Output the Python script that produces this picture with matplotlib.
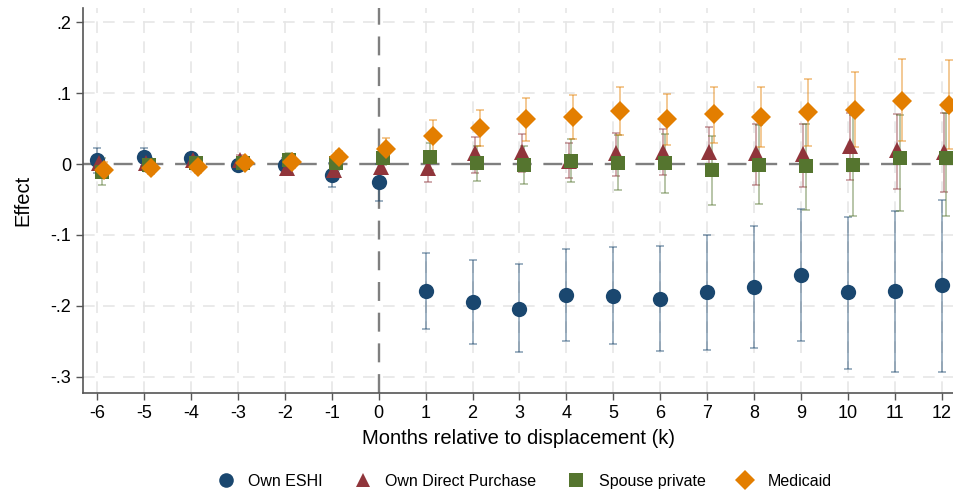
import numpy as np
import matplotlib
matplotlib.use('Agg')
import matplotlib.pyplot as plt
from matplotlib.lines import Line2D

plt.rcParams['font.family'] = ['Liberation Sans', 'DejaVu Sans']

months = np.arange(-6, 13)
labels = ['Own ESHI', 'Own Direct Purchase', 'Spouse private', 'Medicaid']

eshi = [0.005, 0.010, 0.008, -0.001, -0.002, -0.015, -0.026,
        -0.179, -0.194, -0.204, -0.185, -0.186, -0.190, -0.181, -0.173, -0.156, -0.181, -0.179, -0.171]
eshi_lo = [-0.012, -0.003, 0.000, -0.008, -0.013, -0.033, -0.052,
           -0.232, -0.253, -0.265, -0.250, -0.254, -0.263, -0.262, -0.260, -0.249, -0.289, -0.293, -0.293]
eshi_hi = [0.023, 0.023, 0.016, 0.006, 0.009, 0.002, 0.000,
           -0.126, -0.135, -0.141, -0.120, -0.117, -0.116, -0.100, -0.087, -0.063, -0.074, -0.066, -0.051]

direct = [0.001, 0.001, 0.005, 0.005, -0.006, -0.008, -0.004,
          -0.005, 0.015, 0.017, 0.004, 0.016, 0.017, 0.017, 0.015, 0.014, 0.026, 0.020, 0.017]
direct_lo = [-0.009, -0.008, -0.004, -0.003, -0.014, -0.017, -0.013,
             -0.025, -0.012, -0.011, -0.020, -0.017, -0.016, -0.013, -0.029, -0.032, -0.023, -0.035, -0.040]
direct_hi = [0.011, 0.010, 0.014, 0.013, 0.003, 0.002, 0.005,
             0.015, 0.038, 0.042, 0.030, 0.044, 0.049, 0.052, 0.056, 0.057, 0.072, 0.071, 0.072]

spouse = [-0.011, -0.001, 0.001, 0.001, 0.006, 0.001, 0.008,
          0.010, 0.002, -0.001, 0.004, 0.002, 0.001, -0.009, -0.001, -0.003, -0.002, 0.009, 0.009]
spouse_lo = [-0.030, -0.011, -0.008, -0.007, -0.004, -0.009, -0.002,
             -0.008, -0.024, -0.028, -0.026, -0.036, -0.041, -0.058, -0.057, -0.065, -0.073, -0.066, -0.073]
spouse_hi = [0.008, 0.009, 0.010, 0.009, 0.016, 0.011, 0.020,
             0.029, 0.026, 0.026, 0.035, 0.041, 0.042, 0.040, 0.055, 0.057, 0.069, 0.069, 0.072]

medicaid = [-0.009, -0.005, -0.004, 0.001, 0.003, 0.010, 0.021,
            0.040, 0.051, 0.063, 0.066, 0.075, 0.064, 0.070, 0.066, 0.073, 0.076, 0.089, 0.083]
medicaid_lo = [-0.020, -0.014, -0.012, -0.007, -0.006, 0.001, 0.006,
               0.019, 0.026, 0.033, 0.035, 0.041, 0.027, 0.030, 0.024, 0.026, 0.024, 0.032, 0.021]
medicaid_hi = [0.003, 0.004, 0.005, 0.009, 0.012, 0.019, 0.037,
               0.062, 0.076, 0.093, 0.097, 0.109, 0.099, 0.109, 0.109, 0.120, 0.129, 0.148, 0.146]

series = [(eshi, eshi_lo, eshi_hi), (direct, direct_lo, direct_hi),
          (spouse, spouse_lo, spouse_hi), (medicaid, medicaid_lo, medicaid_hi)]
colors = ['#1a476f', '#90353b', '#55752f', '#e37e00']
markers = ['o', '^', 's', 'D']
msizes = [11, 11, 10.5, 10.5]
offsets = [0.0, 0.05, 0.10, 0.15]

fig = plt.figure(figsize=(9.54, 4.96), dpi=100)
ax = fig.add_axes([0.087, 0.208, 0.913, 0.776])
ax.set_axisbelow(True)

ax.grid(True, color='#e6e6e6', linestyle=(0, (7, 5)), linewidth=1.2)
ax.axhline(0, color='#7f7f7f', linestyle=(0, (8, 5)), linewidth=1.7, gapcolor='white', zorder=1.8)
ax.axvline(0, color='#7f7f7f', linestyle=(0, (8, 5)), linewidth=1.7, gapcolor='white', zorder=1.8)

for (b, lo, hi), c, m, ms, off in zip(series, colors, markers, msizes, offsets):
    b = np.array(b)
    err = [b - np.array(lo), np.array(hi) - b]
    ax.errorbar(months + off, b, yerr=err, fmt='none', ecolor=c, alpha=0.45,
                elinewidth=1.3, capsize=3, capthick=1.3, zorder=2)
    ax.plot(months + off, b, linestyle='none', marker=m, color=c, markersize=ms,
            markeredgewidth=0, zorder=3)

ax.set_xlim(-6.3, 12.26)
ax.set_ylim(-0.3225, 0.22)
ax.set_xticks(months)
ax.set_xticklabels([str(k) for k in months])
ax.set_yticks([-0.3, -0.2, -0.1, 0, 0.1, 0.2])
ax.set_yticklabels(['-.3', '-.2', '-.1', '0', '.1', '.2'])
ax.tick_params(labelsize=13, color='#555555', length=5, width=1)
for s in ['top', 'right']:
    ax.spines[s].set_visible(False)
for s in ['left', 'bottom']:
    ax.spines[s].set_color('#555555')
    ax.spines[s].set_linewidth(1.2)

ax.set_xlabel('Months relative to displacement (k)', fontsize=14.5, labelpad=5)
ax.set_ylabel('Effect', fontsize=14.5, labelpad=13)

handles = [Line2D([], [], linestyle='none', marker=m, color=c, markersize=ms - 0.5, markeredgewidth=0)
           for c, m, ms in zip(colors, markers, msizes)]
fig.legend(handles, labels, loc='center', bbox_to_anchor=(0.546, 0.03), ncol=4,
           frameon=False, fontsize=11.5, handletextpad=0.4, columnspacing=1.5)

fig.savefig('out.png', dpi=100)
